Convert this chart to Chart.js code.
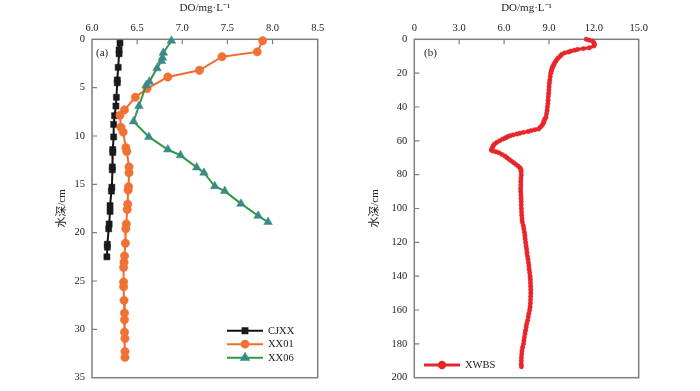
<!DOCTYPE html>
<html><head><meta charset="utf-8">
<script src="https://cdn.jsdelivr.net/npm/chart.js@4/dist/chart.umd.min.js"></script>
<style>
html,body{margin:0;padding:0;background:#fff;width:700px;height:391px;overflow:hidden}
canvas{position:absolute;top:0}
#ca{left:0}#cb{left:350px}
</style></head><body>
<canvas id="ca" width="350" height="391"></canvas>
<canvas id="cb" width="350" height="391"></canvas>
<script>
// ---- tick values / labels ----
const doTicksA = [6.0, 6.5, 7.0, 7.5, 8.0, 8.5];
const doTickLabelsA = ['6.0', '6.5', '7.0', '7.5', '8.0', '8.5'];
const depthTicksA = [0, 5, 10, 15, 20, 25, 30, 35];
const doTicksB = [0, 3, 6, 9, 12, 15];
const doTickLabelsB = ['0', '3.0', '6.0', '9.0', '12.0', '15.0'];
const depthTicksB = [0, 20, 40, 60, 80, 100, 120, 140, 160, 180, 200];

// ---- panel (a) series ----
const cjxxDepth = [0.4, 1.1, 1.5, 2.9, 4.2, 4.5, 6.0, 6.9, 7.9, 8.8, 10.1, 11.4, 11.7, 13.2, 13.5, 15.3, 15.7, 17.2, 17.8, 19.1, 19.6, 21.2, 21.5, 22.5];
const cjxxDO    = [6.31, 6.30, 6.30, 6.29, 6.28, 6.28, 6.27, 6.265, 6.25, 6.24, 6.24, 6.23, 6.23, 6.225, 6.225, 6.22, 6.215, 6.20, 6.20, 6.19, 6.185, 6.17, 6.17, 6.165];

const xx01Depth = [0.15, 1.3, 1.8, 3.2, 3.9, 5.1, 6.0, 7.3, 7.85, 9.1, 9.6, 11.2, 11.6, 13.2, 13.8, 15.25, 15.6, 17.05, 17.6, 19.1, 19.6, 21.1, 22.4, 23.05, 23.6, 25.1, 25.6, 27.0, 28.3, 29.0, 30.3, 30.95, 32.3, 32.9];
const xx01DO    = [7.89, 7.83, 7.44, 7.19, 6.84, 6.61, 6.48, 6.36, 6.31, 6.32, 6.345, 6.375, 6.385, 6.41, 6.41, 6.405, 6.40, 6.395, 6.39, 6.38, 6.375, 6.37, 6.36, 6.355, 6.35, 6.35, 6.35, 6.355, 6.36, 6.36, 6.36, 6.365, 6.365, 6.365];

const xx06Depth = [0.15, 1.4, 1.9, 2.25, 3.0, 4.4, 4.75, 6.9, 8.5, 10.1, 11.4, 12.0, 13.25, 13.8, 15.2, 15.7, 17.0, 18.25, 18.9];
const xx06DO    = [6.88, 6.79, 6.78, 6.77, 6.72, 6.635, 6.60, 6.52, 6.46, 6.63, 6.84, 6.98, 7.16, 7.24, 7.36, 7.47, 7.65, 7.84, 7.95];

// ---- panel (b) series ----
const xwbsDepth = [0, 0.5, 1, 2, 3, 4, 5, 5.5, 6, 6.5, 7, 7.5, 8, 9, 10, 11, 12, 13, 14, 15, 16, 17, 18, 19, 20, 22, 24, 26, 28, 30, 32, 34, 36, 38, 40, 42, 44, 46, 47, 48, 49, 50, 51, 52, 53, 53.5, 54, 54.5, 55, 55.5, 56, 56.5, 57, 57.5, 58, 58.5, 59, 60, 61, 62, 63, 64, 65, 65.5, 66, 66.5, 67, 68, 69, 70, 71, 72, 73, 74, 75, 76, 77, 78, 80, 82, 84, 86, 88, 90, 92, 94, 96, 98, 100, 102, 104, 106, 108, 110, 112, 114, 116, 118, 120, 122, 124, 126, 128, 130, 132, 134, 136, 138, 140, 142, 144, 146, 148, 150, 152, 154, 156, 158, 160, 162, 164, 166, 168, 170, 172, 174, 176, 178, 180, 182, 184, 186, 188, 190, 192, 193.5];
const xwbsDO    = [11.5, 11.7, 11.9, 12.0, 12.05, 12.0, 11.7, 11.3, 10.9, 10.7, 10.45, 10.3, 10.05, 9.85, 9.75, 9.62, 9.53, 9.45, 9.38, 9.32, 9.27, 9.22, 9.18, 9.15, 9.12, 9.09, 9.06, 9.03, 9.01, 9.0, 8.98, 8.96, 8.94, 8.93, 8.9, 8.88, 8.84, 8.8, 8.74, 8.68, 8.65, 8.6, 8.52, 8.42, 8.3, 8.05, 7.8, 7.6, 7.3, 7.05, 6.85, 6.6, 6.4, 6.25, 6.15, 6.05, 5.9, 5.7, 5.5, 5.35, 5.27, 5.22, 5.17, 5.16, 5.25, 5.45, 5.65, 5.85, 6.05, 6.2, 6.35, 6.5, 6.65, 6.8, 6.95, 7.08, 7.12, 7.14, 7.15, 7.13, 7.12, 7.12, 7.11, 7.11, 7.13, 7.14, 7.15, 7.15, 7.16, 7.17, 7.18, 7.2, 7.22, 7.28, 7.32, 7.36, 7.39, 7.41, 7.44, 7.47, 7.5, 7.53, 7.56, 7.6, 7.63, 7.66, 7.68, 7.71, 7.74, 7.76, 7.77, 7.78, 7.79, 7.79, 7.78, 7.77, 7.76, 7.74, 7.71, 7.66, 7.62, 7.58, 7.52, 7.48, 7.44, 7.4, 7.36, 7.33, 7.3, 7.24, 7.2, 7.18, 7.16, 7.15, 7.15, 7.16];

// ---- helpers ----
const SERIF = "'Liberation Serif','Times New Roman','Noto Sans CJK SC',serif";
Chart.defaults.font.family = SERIF;
Chart.defaults.color = '#222';
const FRAME = '#7f7f7f';

function pts(depths, values) { return depths.map((d, i) => ({ x: values[i], y: d })); }

const framePlugin = {
  id: 'frame',
  beforeDatasetsDraw(chart) {
    const { ctx, chartArea: a, scales } = chart;
    ctx.save();
    ctx.strokeStyle = FRAME;
    ctx.lineWidth = 1.5;
    ctx.strokeRect(a.left, a.top, a.right - a.left, a.bottom - a.top);
    ctx.lineWidth = 1.2;
    ctx.beginPath();
    scales.x.ticks.forEach(t => {
      const p = scales.x.getPixelForValue(t.value);
      if (p > a.left + 1 && p < a.right - 1) { ctx.moveTo(p, a.top); ctx.lineTo(p, a.top + 5); }
    });
    scales.y.ticks.forEach(t => {
      const p = scales.y.getPixelForValue(t.value);
      if (p > a.top + 1 && p < a.bottom - 1) { ctx.moveTo(a.left, p); ctx.lineTo(a.left + 5, p); }
    });
    ctx.stroke();
    ctx.restore();
  },
  afterDraw(chart, args, opts) {
    const ctx = chart.ctx;
    ctx.save();
    ctx.font = "11px " + SERIF;
    ctx.fillStyle = '#222';
    ctx.textBaseline = 'middle';
    ctx.textAlign = 'left';
    ctx.fillText(opts.panel, opts.panelX, opts.panelY);
    const L = opts.legend;
    L.order.forEach((idx, i) => {
      const ds = chart.data.datasets[idx];
      const y = L.y + i * L.dy;
      ctx.strokeStyle = ds.borderColor;
      ctx.lineWidth = ds.borderWidth;
      ctx.beginPath(); ctx.moveTo(L.x1, y); ctx.lineTo(L.x2, y); ctx.stroke();
      ctx.fillStyle = ds.pointBackgroundColor;
      ctx.strokeStyle = ds.pointBorderColor;
      const cx = (L.x1 + L.x2) / 2;
      const r = ds.pointRadius * L.markerScale;
      if (Chart.helpers && Chart.helpers.drawPoint) {
        Chart.helpers.drawPoint(ctx, { pointStyle: ds.pointStyle, rotation: 0, radius: r, borderWidth: ds.pointBorderWidth }, cx, y);
      } else {
        ctx.beginPath(); ctx.arc(cx, y, r, 0, Math.PI * 2); ctx.fill();
      }
      ctx.fillStyle = '#222';
      ctx.font = "10.5px " + SERIF;
      ctx.fillText(ds.label, L.x2 + 5, y + 0.5);
    });
    ctx.restore();
  }
};

function axisCommon() {
  return {
    type: 'linear',
    grid: { display: false, drawTicks: false },
    border: { display: false },
  };
}

// ---- panel (a) ----
new Chart(document.getElementById('ca'), {
  type: 'scatter',
  data: {
    datasets: [
      { label: 'CJXX', data: pts(cjxxDepth, cjxxDO), showLine: true, tension: 0, clip: false, order: 2,
        borderColor: '#111', borderWidth: 2, pointStyle: 'rect', pointRadius: 4.3,
        pointBackgroundColor: '#1a1a1a', pointBorderColor: '#1a1a1a', pointBorderWidth: 0.5 },
      { label: 'XX01', data: pts(xx01Depth, xx01DO), showLine: true, tension: 0, clip: false, order: 1,
        borderColor: '#ef6d2e', borderWidth: 2, pointStyle: 'circle', pointRadius: 4.2,
        pointBackgroundColor: '#f07133', pointBorderColor: '#f07133', pointBorderWidth: 0.5 },
      { label: 'XX06', data: pts(xx06Depth, xx06DO), showLine: true, tension: 0, clip: false, order: 0,
        borderColor: '#2f9a3e', borderWidth: 2, pointStyle: 'triangle', pointRadius: 5,
        pointBackgroundColor: '#3a8a88', pointBorderColor: '#3a8a88', pointBorderWidth: 0.5 },
    ]
  },
  options: {
    responsive: false, animation: false, events: [],
    layout: { padding: { left: 0, top: 0, right: 32.3, bottom: 5 } },
    plugins: {
      legend: { display: false }, tooltip: { enabled: false },
      frame: { panel: '(a)', panelX: 96, panelY: 53,
        legend: { order: [0, 1, 2], x1: 227, x2: 263, y: 330.7, dy: 13.5, markerScale: 0.8 } }
    },
    scales: {
      x: Object.assign(axisCommon(), {
        position: 'top', min: 6, max: 8.5,
        afterBuildTicks: s => { s.ticks = doTicksA.map(v => ({ value: v })); },
        afterFit: s => { s.height = 39.3; },
        ticks: { padding: 5, autoSkip: false, maxRotation: 0, font: { size: 10.5 }, callback: (v, i) => doTickLabelsA[i] },
        title: { display: true, text: 'DO/mg·L⁻¹', font: { size: 11 }, padding: { top: 1.8, bottom: 0 } }
      }),
      y: Object.assign(axisCommon(), {
        reverse: true, min: 0, max: 35,
        afterBuildTicks: s => { s.ticks = depthTicksA.map(v => ({ value: v })); },
        afterFit: s => { s.width = 92; },
        ticks: { padding: 7, autoSkip: false, font: { size: 10.5 }, callback: (v, i) => String(depthTicksA[i]) },
        title: { display: true, text: '水深/cm', font: { size: 11 }, padding: { top: 55.4, bottom: 0 } }
      })
    }
  },
  plugins: [framePlugin]
});

// ---- panel (b) ----
new Chart(document.getElementById('cb'), {
  type: 'scatter',
  data: {
    datasets: [
      { label: 'XWBS', data: pts(xwbsDepth, xwbsDO), showLine: true, tension: 0, clip: false,
        borderColor: '#e8262a', borderWidth: 3, pointStyle: 'circle', pointRadius: 2.2,
        pointBackgroundColor: '#e8262a', pointBorderColor: '#e8262a', pointBorderWidth: 0.5 },
    ]
  },
  options: {
    responsive: false, animation: false, events: [],
    layout: { padding: { left: 0, top: 0, right: 61.3, bottom: 5.5 } },
    plugins: {
      legend: { display: false }, tooltip: { enabled: false },
      frame: { panel: '(b)', panelX: 74, panelY: 53,
        legend: { order: [0], x1: 74, x2: 110, y: 365, dy: 13.5, markerScale: 1.2 } }
    },
    scales: {
      x: Object.assign(axisCommon(), {
        position: 'top', min: 0, max: 15,
        afterBuildTicks: s => { s.ticks = doTicksB.map(v => ({ value: v })); },
        afterFit: s => { s.height = 39.3; },
        ticks: { padding: 5, autoSkip: false, maxRotation: 0, font: { size: 10.5 }, callback: (v, i) => doTickLabelsB[i] },
        title: { display: true, text: 'DO/mg·L⁻¹', font: { size: 11 }, padding: { top: 1.8, bottom: 0 } }
      }),
      y: Object.assign(axisCommon(), {
        reverse: true, min: 0, max: 200,
        afterBuildTicks: s => { s.ticks = depthTicksB.map(v => ({ value: v })); },
        afterFit: s => { s.width = 64.3; },
        ticks: { padding: 7, autoSkip: false, font: { size: 10.5 }, callback: (v, i) => String(depthTicksB[i]) },
        title: { display: true, text: '水深/cm', font: { size: 11 }, padding: { top: 18.4, bottom: 0 } }
      })
    }
  },
  plugins: [framePlugin]
});
</script>
</body></html>
